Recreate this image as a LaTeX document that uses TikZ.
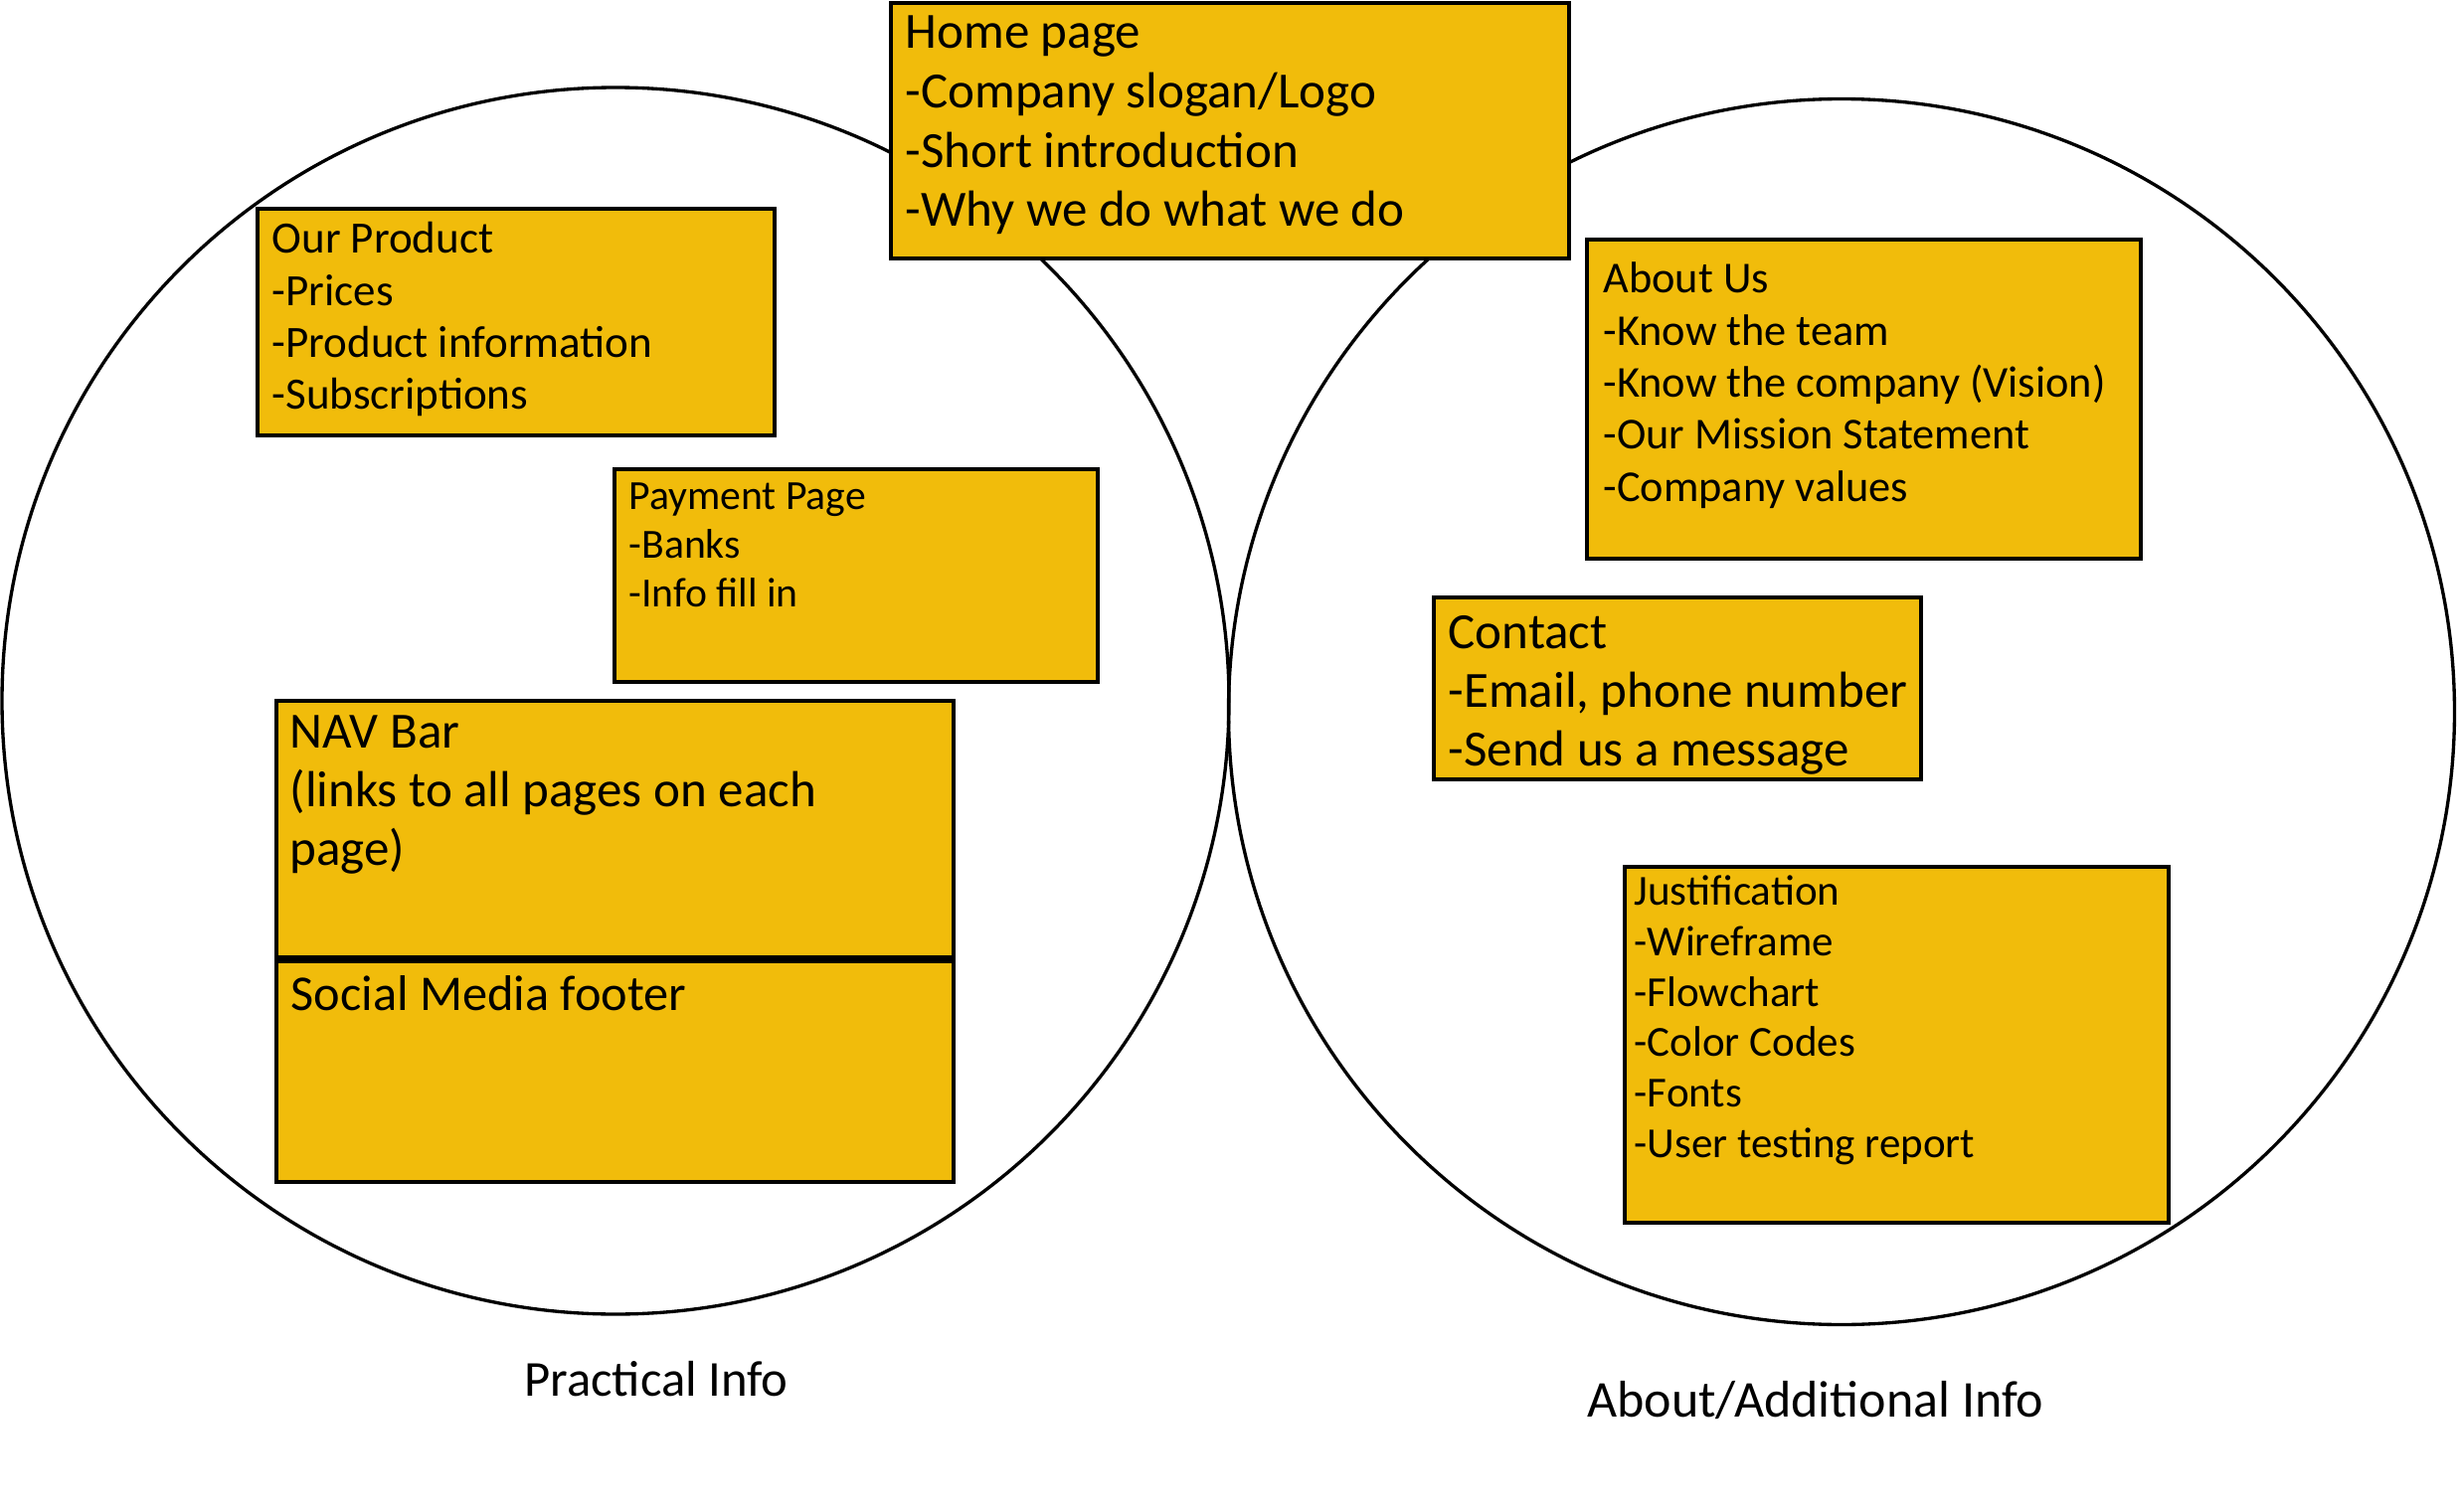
\documentclass[tikz,border=0pt]{standalone}
\usepackage{fontspec}
\setmainfont{Carlito}
\usetikzlibrary{fit}
\definecolor{boxfill}{HTML}{F1BC0B}
\begin{document}
\begin{tikzpicture}[x=0.3pt,y=-0.3pt,
  ring/.style={circle, draw=black, line width=1pt, inner sep=0pt},
  pagebox/.style={draw=black, fill=boxfill, line width=1.3pt, inner sep=0pt},
  txt/.style={anchor=north west, inner sep=0pt, align=left, yshift=12pt},
  lbl/.style={anchor=base, inner sep=0pt}]
\useasboundingbox (0,0) rectangle (2473,1521);
% circles
\node[ring, minimum size=370.2pt] (leftring) at (619,705) {};
\node[ring, minimum size=369.9pt] (rightring) at (1852,716) {};
% boxes
\node[pagebox, fit={(896,3) (1578,260)}] (home) {};
\node[pagebox, fit={(259,210) (779,438)}] (product) {};
\node[pagebox, fit={(618,472) (1104,686)}] (payment) {};
\node[pagebox, fit={(278,705) (959,963)}] (nav) {};
\node[pagebox, fit={(278,963) (959,1189)}] (social) {};
\draw[line width=2pt] (nav.south west) -- (nav.south east);
\node[pagebox, fit={(1596,241) (2153,562)}] (about) {};
\node[pagebox, fit={(1442,601) (1932,784)}] (contact) {};
\node[pagebox, fit={(1634,872) (2181,1230)}] (justif) {};
% texts
\node[txt, font=\fontsize{15.3}{17.9}\selectfont] (hometxt) at (910,48)
  {\rule{0pt}{12pt}Home page\\-Company slogan/Logo\\-Short introduction\\-Why we do what we do};
\node[txt, font=\fontsize{13.5}{15.7}\selectfont] (producttxt) at (273,254)
  {\rule{0pt}{12pt}Our Product\\-Prices\\-Product information\\-Subscriptions};
\node[txt, font=\fontsize{12.5}{14.7}\selectfont] (paymenttxt) at (632,512)
  {\rule{0pt}{12pt}Payment Page\\-Banks\\-Info fill in};
\node[txt, font=\fontsize{15.3}{17.7}\selectfont] (navtxt) at (291,752)
  {\rule{0pt}{12pt}NAV Bar\\(links to all pages on each\\page)};
\node[txt, font=\fontsize{15.1}{17.7}\selectfont] (socialtxt) at (292,1016)
  {\rule{0pt}{12pt}Social Media footer};
\node[txt, font=\fontsize{13.3}{15.7}\selectfont] (abouttxt) at (1612,294)
  {\rule{0pt}{12pt}About Us\\-Know the team\\-Know the company (Vision)\\-Our Mission Statement\\-Company values};
\node[txt, font=\fontsize{15.3}{17.7}\selectfont] (contacttxt) at (1456,652)
  {\rule{0pt}{12pt}Contact\\-Email, phone number\\-Send us a message};
\node[txt, font=\fontsize{12.9}{15.2}\selectfont] (justiftxt) at (1643,910)
  {\rule{0pt}{12pt}Justification\\-Wireframe\\-Flowchart\\-Color Codes\\-Fonts\\-User testing report};
% labels
\node[lbl, font=\fontsize{15.2}{18}\selectfont] (practical) at (660,1404) {Practical Info};
\node[lbl, font=\fontsize{15.6}{18}\selectfont] (additional) at (1826,1425) {About/Additional Info};
\end{tikzpicture}
\end{document}
